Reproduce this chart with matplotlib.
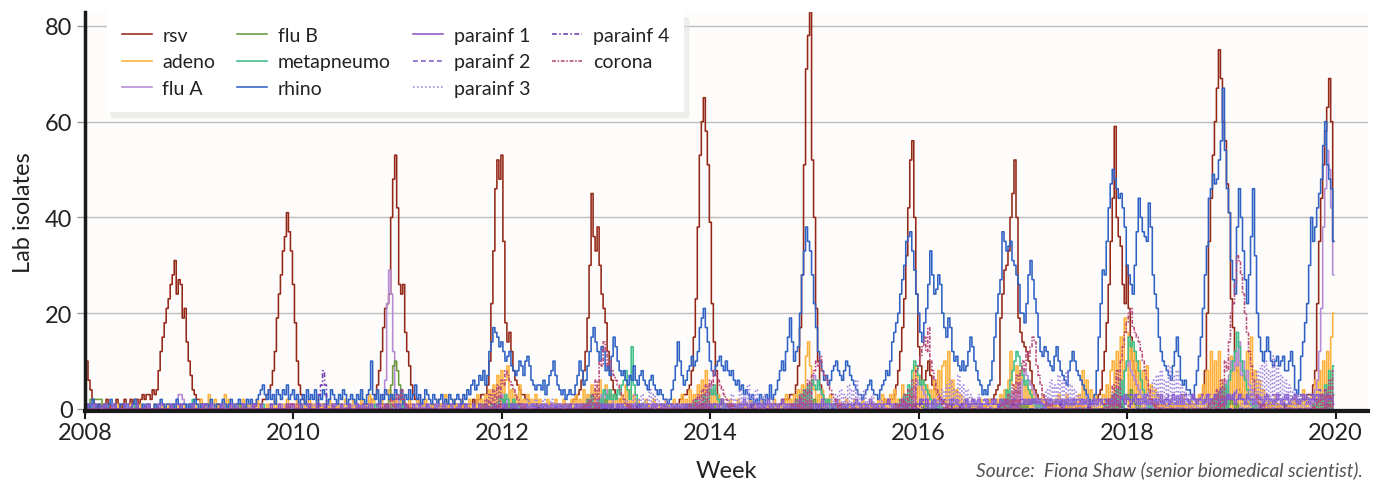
import numpy as np
import matplotlib.pyplot as plt

plt.rcParams['font.family'] = ['Lato', 'DejaVu Sans']

# weekly lab isolate counts, one row per year (2008 ... 2019), 52 weeks per row
rsv = [
    [13,10,6,4,2,1,0,1,0,0, 1,2,1,0,1,1,2,1,0,1, 2,1,1,2,1,2,2,1,2,3, 2,3,3,2,4,3,4,8,12,15, 18,21,23,26,28,31,24,27,26,19, 21,14],
    [10,7,4,3,2,2,1,1,1,0, 0,1,0,0,1,0,0,1,0,0, 1,0,0,1,0,0,0,1,0,1, 0,0,1,0,1,1,1,2,2,3, 4,5,8,12,19,24,28,33,36,41, 37,33],
    [26,18,10,5,3,2,1,1,0,1, 0,0,1,0,0,1,0,0,0,1, 0,1,0,0,1,0,0,0,1,0, 0,1,0,0,1,1,0,1,1,2, 2,3,5,8,12,17,21,22,24,40, 48,53],
    [42,26,24,26,16,12,9,5,3,2, 2,1,1,0,1,0,0,1,0,0, 0,1,0,0,1,0,1,0,0,1, 0,0,1,0,1,0,1,1,2,1, 2,2,3,3,3,5,10,22,33,46, 52,48],
    [53,35,18,14,16,12,8,6,5,4, 3,3,2,2,1,1,1,0,1,0, 0,1,0,0,1,0,0,1,0,1, 0,1,1,0,1,1,2,2,3,4, 6,8,12,19,30,45,36,33,38,30, 24,21],
    [18,12,8,6,4,3,2,2,1,1, 1,0,1,0,0,1,0,1,0,0, 0,1,0,0,0,1,0,0,1,0, 1,0,1,1,0,1,1,2,2,3, 3,4,5,8,15,23,38,53,60,65, 58,51],
    [39,22,14,8,3,2,1,1,0,1, 0,1,0,0,1,0,0,0,1,0, 0,1,0,1,0,0,1,0,0,1, 0,1,1,0,1,1,1,2,2,2, 3,3,3,5,9,17,28,51,71,78, 83,52],
    [40,21,10,5,3,2,2,1,1,0, 1,0,1,0,0,1,0,1,0,0, 1,0,0,1,0,1,0,0,1,0, 1,1,0,1,1,2,1,2,2,2, 3,5,8,12,17,23,32,42,52,56, 40,24],
    [13,9,6,6,8,10,7,5,4,3, 2,2,1,2,1,1,0,1,0,1, 0,1,0,0,1,0,1,0,0,1, 0,1,1,0,1,1,2,2,3,4, 5,19,24,29,30,33,40,45,52,40, 19,16],
    [14,13,12,10,8,5,4,3,2,2, 1,1,0,1,0,0,1,0,0,1, 0,0,1,0,1,0,0,1,0,1, 0,1,1,1,0,1,2,2,3,4, 8,12,18,26,35,44,59,40,36,34, 26,22],
    [30,21,15,10,8,5,4,3,2,2, 1,1,1,0,1,0,0,1,0,1, 0,0,1,0,1,1,0,1,0,1, 1,1,0,1,1,2,2,3,3,8, 20,35,44,53,60,67,75,69,60,56, 47,41],
    [23,17,12,8,4,3,2,2,1,1, 1,1,0,1,0,1,0,0,1,0, 1,0,0,1,0,1,1,0,1,0, 1,1,2,1,1,2,2,2,3,3, 3,5,8,22,35,44,51,58,63,69, 60,35],
]

rhino = [
    [1,0,1,0,2,1,0,1,0,0, 1,0,1,2,0,1,0,0,1,1, 0,1,0,0,1,2,1,0,0,1, 0,1,1,0,0,1,0,1,2,1, 0,1,1,0,1,0,2,1,0,1, 1,0],
    [1,0,1,2,1,0,1,0,1,1, 0,2,1,0,1,1,0,2,1,0, 1,2,1,0,1,2,1,1,0,2, 1,2,1,1,2,3,4,5,3,2, 4,2,3,1,4,3,2,4,3,5, 2,3],
    [4,2,3,1,2,3,1,4,2,3, 2,4,1,3,2,4,3,1,2,4, 3,2,1,3,2,4,3,1,2,3, 2,1,3,2,4,2,1,3,4,10, 3,2,4,1,3,2,4,3,2,3, 2,4],
    [3,2,4,1,3,2,4,2,3,5, 2,3,1,2,4,3,2,1,3,2, 1,2,3,1,2,1,3,2,1,2, 3,2,1,3,2,4,3,5,6,4, 5,7,6,8,5,7,12,14,17,16, 15,13],
    [14,12,10,11,12,9,8,7,8,10, 9,7,10,11,9,6,5,4,5,5, 4,6,3,5,7,8,10,7,5,4, 3,4,2,3,4,3,3,5,7,10, 8,5,6,9,12,15,17,14,12,10, 13,12],
    [8,9,7,11,15,13,10,8,7,8, 6,5,7,6,9,6,5,7,8,6, 5,4,6,7,5,4,3,4,3,2, 2,1,2,4,6,9,14,10,7,5, 6,8,9,11,9,10,12,17,19,21, 17,14],
    [10,8,7,9,10,11,9,8,10,8, 7,8,6,5,6,4,5,3,4,3, 2,3,1,2,1,3,2,1,3,2, 5,2,3,4,6,8,10,8,12,15, 19,14,10,12,13,20,28,33,38,35, 33,28],
    [22,17,12,10,8,6,7,5,6,8, 9,10,8,7,6,8,10,9,7,6, 5,4,3,3,2,3,4,5,6,4, 3,3,2,4,5,6,8,7,10,14, 16,18,20,24,27,30,35,36,37,33, 29,24],
    [20,16,14,18,21,26,33,28,24,25, 28,26,20,17,15,19,17,12,10,11, 9,8,10,8,9,12,15,13,10,8, 6,5,3,4,3,5,6,10,15,20, 24,27,37,35,33,34,35,31,30,28, 26,20],
    [20,18,22,28,31,27,23,20,15,12, 11,13,12,10,9,8,11,13,10,8, 7,6,5,8,10,12,10,8,7,6, 5,4,3,2,1,1,3,8,15,22, 29,28,35,42,47,50,48,46,44,45, 42,38],
    [30,28,26,24,30,37,44,40,37,36, 35,43,38,28,24,21,15,12,10,9, 8,7,6,9,12,15,11,6,5,6, 4,4,3,2,5,8,11,15,21,28, 34,44,46,49,47,48,52,56,67,54, 46,41],
    [31,27,24,38,46,40,33,27,22,28, 36,46,32,20,15,12,10,12,15,12, 10,9,10,11,9,10,11,8,8,10, 12,9,4,3,6,11,14,18,22,30, 40,35,38,42,45,48,55,60,51,48, 46,35],
]

# smaller series: one character per week, 0-9 then a-z (10-35) then A-Z (36-61)
CODE = "0123456789abcdefghijklmnopqrstuvwxyzABCDEFGHIJKLMNOPQRSTUVWXYZ"

adeno = [
    "0100010010100 0101000100101 0010010001000 1010010100010",
    "0101002010300 2010030201001 0201010020100 1010201010201",
    "1020101020102 0101020101010 2010201020103 0201020104030",
    "2030102010201 0201010201030 1020102010201 0302030405070",
    "8069040305020 3020302010201 0201020102030 2040305040603",
    "5040302030504 0302010201020 1010201020103 0204030506080",
    "5040302010201 0201010201010 2010102010203 020304050be96",
    "4030402030102 0102010201020 1020102030203 0402050304090",
    "7060504060809 a0c0604030201 0201020102010 2030406c50908",
    "6050403020302 0102030203010 2030806040302 030508a0c0f0j",
    "g0e0c0a080905 0403020102010 2030102010305 080c0a0c06040",
    "b090a070c0f08 0604030203010 2010203010402 0306080a0c0fk",
]

flu_a = [
    "0000000000000 0000000000000 0000000000000 0000001233210",
    "1000000000000 0000000000000 0000000000000 0000000100101",
    "0000000000000 0000000000000 0000000000000 00001236mtoc4",
    "2100000000000 0000000000000 0000000000000 0000000001012",
    "3121010000000 0000000000000 0000000000000 0000001012030",
    "4232101000000 0000000000000 0000000000000 0000001020304",
    "5343210100000 0000000000000 0000000000000 0000102030406",
    "7654321010000 0000000000000 0000000000000 0000102030405",
    "6543210100000 0000000000000 0000000000000 0001020304050",
    "6876543210100 0000000000000 0000000000000 0010203040508",
    "9a87654321010 0000000000000 0000000000000 0010203040607",
    "a8c9e7a685432 1010000000000 0000000000000 02046clCKSOGs",
]

flu_b = [
    "0002222220000 0000000000000 0000000000000 0000000000000",
    "0000000000000 0000000000001 0000000000000 0000000000000",
    "0000000000000 0000000000000 0000000000000 000000001259a",
    "8520100000000 0000000000000 0000000000000 0000000000001",
    "1201010000000 0000000000000 0000000000000 0000000000101",
    "2101000000000 0000000000000 0000000000000 0000000000101",
    "1010000000000 0000000000000 0000000000000 0000000001010",
    "2101000000000 0000000000000 0000000000000 0000000000101",
    "1210100000000 0000000000000 0000000000000 0000000000010",
    "1010000000000 0000000000000 0000000000000 0000000010102",
    "3242101000000 0000000000000 0000000000000 0000000010201",
    "2101000000000 0000000000000 0000000000000 0000000010203",
]

metapneumo = [
    "0100000000000 0000000000001 0000000000000 0000000000000",
    "0120000000000 0000000000000 0000000000010 0000000000000",
    "0000100000000 0000000000000 0000000000000 0010000100101",
    "0101000000000 0000000000000 0000000000000 0000100010102",
    "2132102010100 0000000000000 0000000000000 0010203010204",
    "3242324356842 d530101000000 0000000000000 0010102010302",
    "4353212010100 0000000000000 0000000000000 0010203040506",
    "5464321201010 0000000000000 0000000000000 00102030508a9",
    "7565432101010 0000000000000 0000000000000 010204068acb9",
    "7564321010100 0000000000000 0000000000000 0010203040608",
    "afdeca8642101 0000000000000 0000000000000 0010203040506",
    "8acgda8642101 0000000000000 0000000000000 0010203050809",
]

parainf_1 = [
    "0100010000100 0010000100000 1000001000010 0000100001000",
    "0010000100010 0001000010000 0100001000100 0010001000010",
    "1000100010001 0001000100010 0010001001000 1000100010001",
    "0100100010010 0010001000100 0100010010001 0010010001001",
    "1010010100101 0010100101001 0101001010010 1001010010101",
    "0101001010010 1010010100101 0010100101001 0101001010010",
    "1011012110101 0110210101101 1012101101210 1101012101101",
    "1101210110121 0110110121011 0121101101121 0110121011011",
    "1211211021121 1012112110121 1211201121121 1021121121012",
    "2112122121102 1211212012112 1221212011212 2112121211221",
    "2212321223121 2212312212321 2312212321221 2312232122132",
    "2312322132212 3221232212321 2231223212322 1232232213221",
]

parainf_2 = [
    "0001000010000 0100000000100 0000100000000 1000000100000",
    "0100000001000 0000100000010 0000000100000 0010000000100",
    "0001000100000 1000000010000 0100000100010 0001000100000",
    "1000100000100 0010000100010 0000100010001 0010001000100",
    "0100010001000 1001000100100 0100100010010 0100100010010",
    "1001001001000 1001010010010 0101001001010 0100101001010",
    "1010010100101 0010100100101 0100101001010 0101001010010",
    "1011010110101 1010110101101 0110101101011 0101101011010",
    "1121011210112 1011211011210 1121011210112 1011211012110",
    "1211212112121 1212112121121 2112121121211 2121121312232",
    "3232132121321 2132121321213 2123212321232 1232132431232",
    "3243232132321 2321321231232 1321232123213 2321343243232",
]

parainf_3 = [
    "0000000000000 0100000010000 0000000000000 0000000000000",
    "0000000000001 0000100000100 0000100000000 0000000000000",
    "0000000000100 0010010010001 0000100000000 0000000000000",
    "0000000000100 1001001010010 0100100001000 0000000000000",
    "0000000001010 2010201020102 0101001000100 0000000000000",
    "0000000010201 0302030204030 2010201010010 0000000000000",
    "0000000102030 2040305030402 0301020100010 0000000000000",
    "0000000102030 4030504060304 0203010201001 0000000000000",
    "0000001020304 0506040705040 3020301020100 0001000000000",
    "0000001020304 0605070608050 4030203010201 0001000000000",
    "0000010203040 6070806090708 0504030201020 1000100000000",
    "0000010204060 8090a080b0907 0605040302010 2010001000000",
]

parainf_4 = [
    "0000000000000 0000000000000 0000000000000 0000000000000",
    "0000000000000 0000000000000 0000000000000 0000000000000",
    "0000000000000 3585000000000 0000000000000 0000000000000",
    "0000000000000 0000000000000 0000000000000 0000000000000",
    "0000000000000 0000010000000 0000000000000 0000000000000",
    "0000000000000 0001000000000 0000000000000 0000000001000",
    "0000000000000 0000000010000 0000000000000 0000000000000",
    "0000000000000 0000000000000 0000000000000 0000000000010",
    "0100000000000 0001000010000 0000000000000 0000000010000",
    "0000000000000 0000001000000 0000000100000 0000000000100",
    "0100000000000 0000000000000 0000000000000 0000000100000",
    "0000000000000 0010000000000 0100000000000 0000000001000",
]

corona = [
    "0000000000000 0000000000000 0000000000000 0000000000000",
    "0000000000000 0000000000000 0000000000000 0000000000101",
    "1010000000000 0000000000000 0000000000000 0000001010202",
    "3242101000000 0000000000000 0000000000000 0001020304050",
    "6587654321010 0000000000000 0000000000000 0010203060a9e",
    "c9a8765432101 0000000000000 0000000000000 0001020304050",
    "6587654321010 0000000000000 0000000000000 0010203040607",
    "8a9b876543210 1000000000000 0000000000000 0010203040608",
    "9bdfcha864321 0100000000000 0000000000000 0010203050708",
    "a8cbdfe975321 0100000000000 0000000000000 0010205080adg",
    "iklhgfeca8642 1010000000000 0000000000000 0010204060a8e",
    "kmqwvsokgc963 2101000000000 0000000000000 0010203040608",
]


def from_rows(rows):
    return np.array([v for row in rows for v in row], dtype=float)


def from_codes(rows):
    return np.array([CODE.index(c) for row in rows for c in row.replace(' ', '')], dtype=float)


series = [
    ('rsv', from_rows(rsv), '#942818', '-'),
    ('adeno', from_codes(adeno), '#fdb13a', '-'),
    ('flu A', from_codes(flu_a), '#b48ad4', '-'),
    ('flu B', from_codes(flu_b), '#6b9b3a', '-'),
    ('metapneumo', from_codes(metapneumo), '#3fbf88', '-'),
    ('rhino', from_rows(rhino), '#2f62c4', '-'),
    ('parainf 1', from_codes(parainf_1), '#8c58cc', '-'),
    ('parainf 2', from_codes(parainf_2), '#7f5ad0', (0, (3, 2))),
    ('parainf 3', from_codes(parainf_3), '#9b7fe0', (0, (1, 1.5))),
    ('parainf 4', from_codes(parainf_4), '#6e3fb4', (0, (3, 1.5, 1, 1.5))),
    ('corona', from_codes(corona), '#b8487a', (0, (2.5, 1, 1, 1))),
]

fig = plt.figure(figsize=(13.77, 4.81), dpi=100)
ax = fig.add_axes([85 / 1377, 69 / 481, 1283 / 1377, 399 / 481])
ax.set_facecolor('#fdfcfa')

for name, vals, color, ls in series:
    x = 2008 + np.arange(len(vals)) / 52
    ax.plot(x, vals, color=color, lw=1.15, ls=ls, drawstyle='steps-mid', label=name)

ax.set_xlim(2008, 2020.31)
ax.set_ylim(-0.42, 82.9)
ax.set_xticks(range(2008, 2021, 2))
ax.set_yticks([0, 20, 40, 60, 80])
ax.grid(axis='y', color='#bdbdbd', lw=1.0)
ax.set_axisbelow(True)

for side in ['top', 'right']:
    ax.spines[side].set_visible(False)
ax.spines['left'].set_linewidth(2.5)
ax.spines['bottom'].set_linewidth(3)
ax.spines['left'].set_color('#1a1a1a')
ax.spines['bottom'].set_color('#1a1a1a')

ax.tick_params(axis='y', length=6, width=1, color='#999999', labelsize=17, labelcolor='#222222', pad=3)
ax.tick_params(axis='x', length=6, width=1.5, color='#1a1a1a', labelsize=17, labelcolor='#222222', pad=2)

ax.set_xlabel('Week', fontsize=17, color='#222222', labelpad=12)
ax.set_ylabel('Lab isolates', fontsize=17, color='#222222', labelpad=8)

leg = ax.legend(loc='upper left', bbox_to_anchor=(0.0171, 1.0), borderaxespad=0, ncol=4,
                fontsize=14, frameon=True, fancybox=False, handlelength=1.55,
                handletextpad=0.55, columnspacing=1.12, labelspacing=0.5, borderpad=0.75,
                shadow={'color': '#e2e2e2', 'alpha': 0.5, 'ox': 3, 'oy': -4})
leg.get_frame().set_facecolor('white')
leg.get_frame().set_edgecolor('none')
leg.get_frame().set_alpha(1)
for t in leg.get_texts():
    t.set_color('#222222')

fig.text(0.99, 0.023, 'Source:  Fiona Shaw (senior biomedical scientist).', ha='right', va='center',
         fontsize=13.8, style='italic', color='#555555')

fig.savefig('out.png', dpi=100)
